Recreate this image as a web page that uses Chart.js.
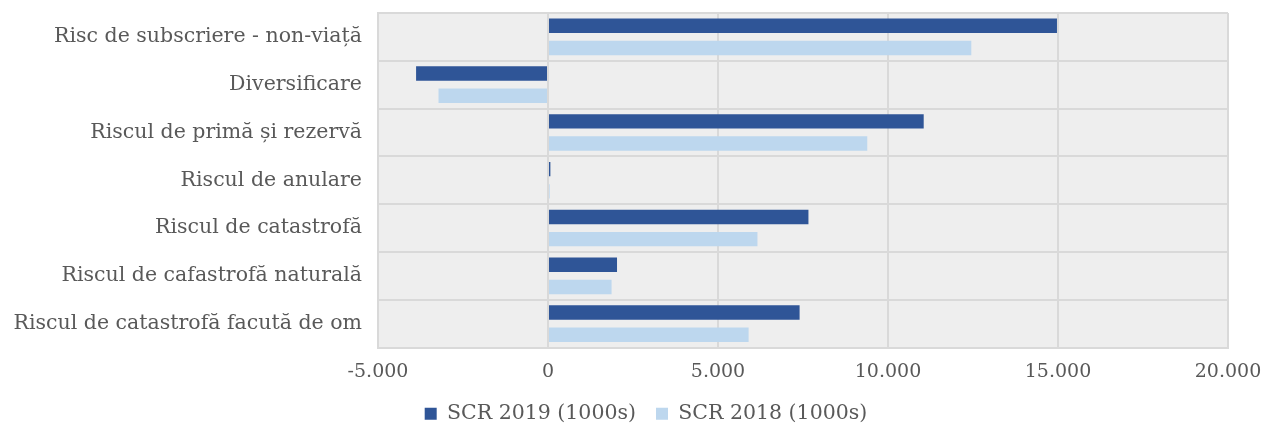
<!DOCTYPE html>
<html>
<head>
    <title>SCR</title>
    <script src="https://cdn.jsdelivr.net/npm/chart.js"></script>
    <style>
        body { margin: 0; background: #fff; }
        #wrap { width: 1266px; height: 426px; }
    </style>
</head>
<body>
    <div id="wrap">
        <canvas id="myChart"></canvas>
    </div>

    <script>
        // categorii (de sus în jos)
        const categories = [
            'Risc de subscriere - non-viață',
            'Diversificare',
            'Riscul de primă și rezervă',
            'Riscul de anulare',
            'Riscul de catastrofă',
            'Riscul de cafastrofă naturală',
            'Riscul de catastrofă facută de om'
        ];
        const scr2019 = [14970, -3880, 11050, 70, 7660, 2030, 7400];
        const scr2018 = [12450, -3220, 9390, 50, 6160, 1870, 5900];
        const seriesNames = ['SCR 2019 (1000s)', 'SCR 2018 (1000s)'];

        const fontFamily = '"DejaVu Serif", serif';
        const textColor = '#595959';

        // fundal gri pentru zona graficului + legenda putin mai la dreapta
        const plotBg = {
            id: 'plotBg',
            afterLayout(chart) {
                chart.legend.left += 32;
                chart.legend.right += 32;
            },
            beforeDraw(chart) {
                const { ctx, chartArea: a } = chart;
                ctx.save();
                ctx.fillStyle = '#EEEEEE';
                ctx.fillRect(a.left, a.top, a.right - a.left, a.bottom - a.top);
                ctx.restore();
            }
        };

        const ctx = document.getElementById('myChart').getContext('2d');
        new Chart(ctx, {
            type: 'bar',
            data: {
                labels: categories,
                datasets: [{
                    label: seriesNames[0],
                    data: scr2019,
                    backgroundColor: '#2F5597',
                    categoryPercentage: 0.93,
                    barPercentage: 0.65
                }, {
                    label: seriesNames[1],
                    data: scr2018,
                    backgroundColor: '#BDD7EE',
                    categoryPercentage: 0.93,
                    barPercentage: 0.65
                }]
            },
            options: {
                indexAxis: 'y',
                responsive: true,
                maintainAspectRatio: false,
                animation: false,
                layout: { padding: { top: 13, left: 0, right: 38, bottom: -8 } },
                scales: {
                    x: {
                        min: -5000,
                        max: 20000,
                        ticks: {
                            stepSize: 5000,
                            color: textColor,
                            font: { family: fontFamily, size: 19 },
                            padding: 13,
                            callback: v => v.toLocaleString('de-DE')
                        },
                        grid: { color: '#D9D9D9', lineWidth: 2, drawTicks: false },
                        border: { color: '#D9D9D9', width: 2 },
                        afterFit: s => {
                            s.height = 36;
                            s.paddingLeft = 0;
                            s.paddingRight = 0;
                        }
                    },
                    y: {
                        ticks: {
                            color: textColor,
                            font: { family: fontFamily, size: 20.5 },
                            padding: 16
                        },
                        grid: { color: '#D9D9D9', lineWidth: 2, drawTicks: false },
                        border: { color: '#D9D9D9', width: 2 },
                        afterFit: s => {
                            s.width = 378;
                            s.paddingTop = 0;
                            s.paddingBottom = 0;
                        }
                    }
                },
                plugins: {
                    legend: {
                        position: 'bottom',
                        labels: {
                            color: textColor,
                            font: { family: fontFamily, size: 20.5 },
                            boxWidth: 12,
                            boxHeight: 12,
                            padding: 20
                        }
                    },
                    tooltip: { enabled: false }
                }
            },
            plugins: [plotBg]
        });
    </script>
</body>
</html>
